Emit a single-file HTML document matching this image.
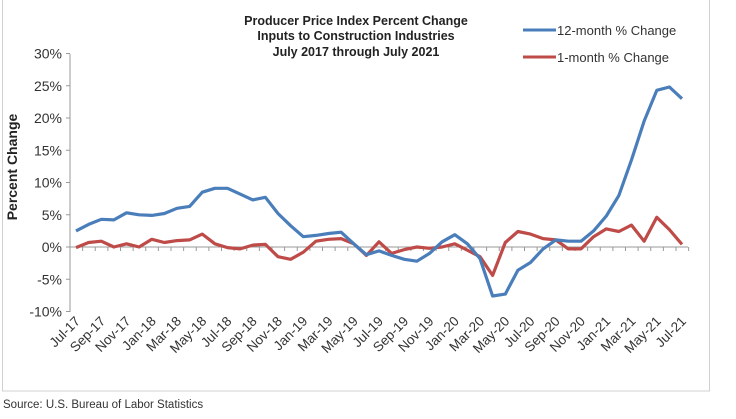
<!DOCTYPE html>
<html><head><meta charset="utf-8"><style>
body{margin:0;background:#fff;width:736px;height:414px;overflow:hidden;font-family:"Liberation Sans",Arial,sans-serif}
</style></head><body>
<svg id="s" width="736" height="414" xmlns="http://www.w3.org/2000/svg" font-family="Liberation Sans, Arial, sans-serif">
<rect x="2.5" y="-1" width="707" height="392" fill="#fff" stroke="#d0d0d0"/>
<g font-weight="bold" font-size="12.5" text-anchor="middle" fill="#222">
<text x="356" y="25">Producer Price Index Percent Change</text>
<text x="356" y="40">Inputs to Construction Industries</text>
<text x="356" y="56">July 2017 through July 2021</text>
</g>
<line x1="523" y1="30" x2="556" y2="30" stroke="#4a7ebb" stroke-width="3"/>
<text x="557" y="35" font-size="13" fill="#333">12-month % Change</text>
<line x1="523" y1="57" x2="556" y2="57" stroke="#be4b48" stroke-width="3"/>
<text x="557" y="62" font-size="13" fill="#333">1-month % Change</text>
<text transform="translate(17,167) rotate(-90)" text-anchor="middle" font-weight="bold" font-size="14" fill="#222">Percent Change</text>
<g id="g"></g>
<text x="3" y="408" font-size="11.5" fill="#333">Source: U.S. Bureau of Labor Statistics</text>
</svg>
<script>
var a=[2.5,3.5,4.3,4.2,5.3,5.0,4.9,5.2,6.0,6.3,8.5,9.1,9.1,8.2,7.3,7.7,5.2,3.3,1.6,1.8,2.1,2.3,0.5,-1.2,-0.6,-1.3,-1.9,-2.2,-1.0,0.8,1.9,0.5,-1.8,-7.6,-7.3,-3.6,-2.4,-0.3,1.1,0.9,0.9,2.5,4.8,8.0,13.5,19.5,24.3,24.8,23.0];
var b=[-0.1,0.7,0.9,0.0,0.5,0.0,1.2,0.7,1.0,1.1,2.0,0.5,-0.1,-0.3,0.3,0.4,-1.5,-1.9,-0.8,0.9,1.2,1.3,0.5,-1.3,0.8,-1.0,-0.4,0.0,-0.2,0.0,0.5,-0.5,-1.5,-4.4,0.7,2.4,2.0,1.3,1.1,-0.3,-0.3,1.6,2.8,2.4,3.4,0.9,4.6,2.7,0.4];
var m=["Jul","Sep","Nov","Jan","Mar","May"];
var X=function(i){return 76+i*12.625},Y=function(v){return 247-v*6.45};
var h='<line x1="70" y1="54" x2="70" y2="312" stroke="#999"/>';
for(var k=-10;k<=30;k+=5){var y=Y(k);h+='<line x1="66" y1="'+y+'" x2="70" y2="'+y+'" stroke="#999"/><text x="62" y="'+(y+5)+'" font-size="14" text-anchor="end" fill="#333">'+k+'%</text>';}
h+='<line x1="70" y1="247" x2="688" y2="247" stroke="#999"/>';
for(var i=0;i<=49;i++){var x=70+i*12.625;h+='<line x1="'+x+'" y1="247" x2="'+x+'" y2="251" stroke="#999"/>';}
for(var i=0;i<49;i+=2){var mo=m[(i/2)%6];var yr=17+Math.floor((i+6)/12);h+='<text transform="translate('+(X(i)+5)+',322) rotate(-45)" text-anchor="end" font-size="13.5" fill="#333">'+mo+'-'+yr+'</text>';}
function p(d,c){var s='';d.forEach(function(v,i){s+=X(i).toFixed(1)+','+Y(v).toFixed(1)+' '});return '<polyline points="'+s+'" fill="none" stroke="'+c+'" stroke-width="3.2" stroke-linejoin="round"/>';}
h+=p(b,"#be4b48")+p(a,"#4a7ebb");
document.getElementById('g').innerHTML=h;
</script>
</body></html>
